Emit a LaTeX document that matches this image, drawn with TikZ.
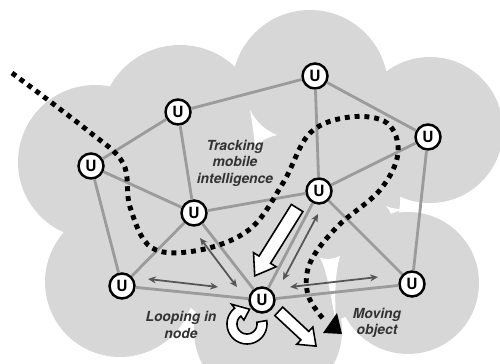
\documentclass[tikz,border=0pt]{standalone}
\usepackage{fontspec}
\setsansfont{TeX Gyre Heros}
\usepackage{tikz}
\usetikzlibrary{shapes.arrows,arrows.meta}
\definecolor{cloudgray}{RGB}{215,215,215}
\definecolor{linkgray}{RGB}{155,155,155}
\definecolor{hopgray}{RGB}{85,85,85}
\definecolor{notegray}{RGB}{50,50,50}

\begin{document}
\begin{tikzpicture}[x=0.02cm, y=-0.02cm,
	unode/.style={circle, draw, line width=1.4pt, fill=white, minimum size=0.5cm, inner sep=0pt,
		font=\sffamily\bfseries\fontsize{8.8}{9}\selectfont},
	link/.style={draw=linkgray, line width=1.6pt},
	hop/.style={draw=hopgray, line width=1pt,
		{Stealth[length=4.5pt,width=4pt]}-{Stealth[length=4.5pt,width=4pt]}},
	track/.style={line width=2.8pt, dash pattern=on 2.8pt off 2.8pt},
	blockarrow/.style={single arrow, draw, line width=0.9pt, fill=white, inner xsep=0pt, anchor=tip},
	note/.style={align=center, inner sep=0pt, text=notegray,
		font=\sffamily\bfseries\itshape\fontsize{7.9}{9.4}\selectfont}]
	\useasboundingbox (0,0) rectangle (500,364);

	% cloud of radio ranges
	\fill[cloudgray] (95,162) circle[radius=77] (180,125) circle[radius=80]
		(310,88) circle[radius=78] (430,130) circle[radius=73]
		(408,283) circle[radius=71] (120,282) circle[radius=75]
		(268,330) circle[radius=74] (200,210) circle[radius=80]
		(330,200) circle[radius=70] (250,240) circle[radius=90]
		(330,280) circle[radius=40];
	\fill[white] (250,110) .. controls (257,123) and (265,130) .. (277,135)
		.. controls (268,137) and (260,141) .. (255,147)
		.. controls (254,135) and (252,122) .. cycle;
	\fill[white] (386,206) .. controls (392,209) and (398,209) .. (404,209)
		.. controls (399,211) and (394,212) .. (391,214) .. controls (390,211) and (388,208) .. cycle;
	\fill[white] (320,258) .. controls (327,260) and (334,259) .. (340,256)
		.. controls (336,270) and (334,290) .. (336,322)
		.. controls (331,300) and (328,272) .. cycle;

	\node[unode] (u1) at (178,112) {U};
	\node[unode] (u2) at (91,166) {U};
	\node[unode] (u3) at (315,76) {U};
	\node[unode] (u4) at (428,137) {U};
	\node[unode] (u5) at (194,213) {U};
	\node[unode] (u6) at (319,191) {U};
	\node[unode] (u7) at (122,286) {U};
	\node[unode] (u8) at (262,300) {U};
	\node[unode] (u9) at (412,284) {U};

	\draw[link] (u1) -- (u2);
	\draw[link] (u1) -- (u3);
	\draw[link] (u1) -- (u5);
	\draw[link] (u2) -- (u5);
	\draw[link] (u2) -- (u7);
	\draw[link] (u3) -- (u4);
	\draw[link] (u3) -- (u6);
	\draw[link] (u4) -- (u6);
	\draw[link] (u4) -- (u9);
	\draw[link] (u5) -- (u6);
	\draw[link] (u5) -- (u7);
	\draw[link] (u5) -- (u8);
	\draw[link] (u6) -- (u8);
	\draw[link] (u6) -- (u9);
	\draw[link] (u7) -- (u8);
	\draw[link] (u8) -- (u9);

	% hops towards the looping node
	\coordinate (gh1) at (148,279); \coordinate (gh2) at (218,287);
	\coordinate (eh1) at (200,238); \coordinate (eh2) at (237,287);
	\coordinate (fh1) at (318,214); \coordinate (fh2) at (283,280);
	\coordinate (ih1) at (378,277); \coordinate (ih2) at (290,287);
	\draw[hop] (gh1) -- (gh2);
	\draw[hop] (eh1) -- (eh2);
	\draw[hop] (fh1) -- (fh2);
	\draw[hop] (ih1) -- (ih2);

	% path of the moving object
	\draw[track] plot[smooth, tension=0.6] coordinates {(12,73) (87,130) (123,163) (130,207)
		(152,248) (200,250) (250,229) (283,183) (310,133) (350,117) (387,123) (398,153)
		(380,190) (337,227) (310,263) (308,295) (325,321)};
	\fill (323,333) -- (337,313) -- (342,334) -- cycle;

	\node[blockarrow, rotate=-122, minimum height=1.6cm, inner ysep=0.12cm,
		single arrow head extend=0.13cm, single arrow tip angle=70] (push) at (254,277) {};
	\node[blockarrow, rotate=-43, minimum height=1.02cm, inner ysep=0.1cm,
		single arrow head extend=0.12cm, single arrow tip angle=75] (leave) at (317,347) {};
	\draw[line width=0.9pt, fill=white]
		plot[domain=-10:232, samples=40] ({247+20*cos(\x)}, {324+20*sin(\x)})
		-- ({247+25*cos(232)}, {324+25*sin(232)})
		-- ({247+15*cos(280)}, {324+15*sin(280)})
		-- ({247+5*cos(232)}, {324+5*sin(232)})
		-- plot[domain=232:-10, samples=40] ({247+10*cos(\x)}, {324+10*sin(\x)}) -- cycle;

	\node[note] (tracking) at (235,163) {Tracking\\mobile\\intelligence};
	\node[note] (looping) at (181,325) {Looping in\\node};
	\node[note] (moving) at (377,323) {Moving\\object};
\end{tikzpicture}
\end{document}
